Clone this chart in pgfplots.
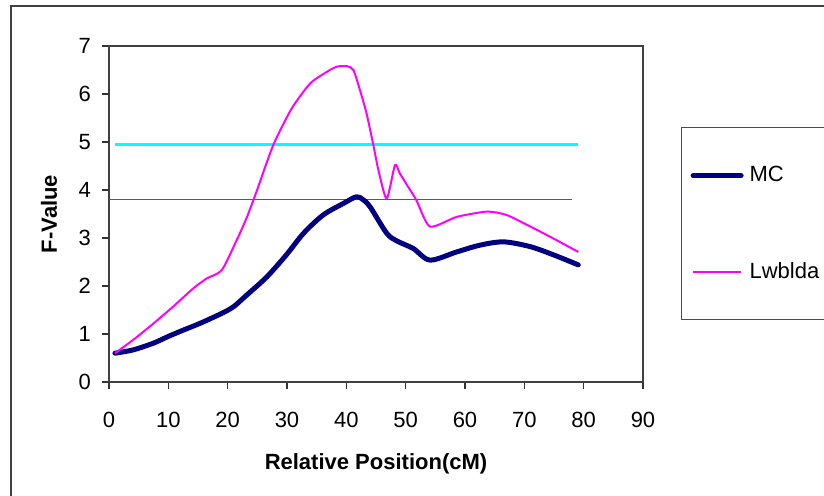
\documentclass[border=0pt]{standalone}
\usepackage{pgfplots}
\pgfplotsset{compat=1.18}
\usepackage{fontspec}
\setmainfont{Liberation Sans}
\definecolor{mcnavy}{RGB}{0,0,128}
\definecolor{lwmag}{RGB}{255,0,255}
\definecolor{thcyan}{RGB}{0,255,255}

\begin{document}
\begin{tikzpicture}[font=\fontsize{11}{13}\selectfont]
% page = 824x495 px at 0.5pt per px
\useasboundingbox (-54.5pt,-56.5pt) rectangle (357.5pt,191pt);
\draw[black!75, line width=0.9pt] (-49pt,-70pt) -- (-49pt,188pt) -- (370pt,188pt);
\begin{axis}[
    at={(0,0)}, anchor=south west,
    scale only axis,
    width=267pt, height=168pt,
    xmin=0, xmax=90, ymin=0, ymax=7,
    xtick={0,10,...,90}, ytick={0,1,...,7},
    tick pos=left, tick align=outside,
    major tick length=3.5pt,
    tick style={black!80, line width=0.6pt},
    axis line style={black!75, line width=0.7pt},
    /pgf/number format/assume math mode=true,
    ticklabel style={font=\fontsize{11}{13}\selectfont},
    xticklabel style={yshift=-8pt},
    yticklabel style={xshift=-2pt},
    xlabel={\textbf{Relative Position(cM)}},
    ylabel={\textbf{F-Value}},
    xlabel style={yshift=-6pt},
    ylabel style={yshift=4pt},
    legend style={at={(rel axis cs:1.0712,0.7589)}, anchor=north west,
        draw=black!70, line width=0.6pt, inner xsep=4.5pt, inner ysep=0pt,
        row sep=0pt,
        nodes={minimum height=48pt, text width=50pt, inner xsep=3pt, inner ysep=0pt,
               font=\fontsize{11}{13}\selectfont}},
    legend cell align=left,
    legend image code/.code={\draw[#1] (0pt,0pt) -- (24pt,0pt);},
]
% threshold lines
\addplot[thcyan, line width=1.2pt, forget plot] coordinates {(1,4.95) (79,4.95)};
\addplot[black!65, line width=0.8pt, forget plot] coordinates {(0,3.8) (78,3.8)};

\addplot[mcnavy, line width=2.5pt, line join=round, line cap=round, smooth, tension=0.5] coordinates {
(1,0.60) (4.1,0.67) (7.5,0.81) (10,0.95) (12.5,1.08) (15.3,1.22) (19,1.43)
(21,1.57) (23.2,1.81) (26.6,2.19) (29.9,2.65) (32.8,3.10) (36.1,3.48)
(39.5,3.72) (41.7,3.86) (42.8,3.80) (44,3.65) (46.8,3.10) (48.5,2.94)
(51.3,2.78) (54.1,2.54) (58.6,2.71) (62.5,2.85) (66.5,2.92) (71,2.82)
(74.9,2.65) (79.1,2.44)
};
\addlegendentry{MC}

\addplot[lwmag, line width=1pt, line join=round, smooth, tension=0.4] coordinates {
(1,0.60) (4.1,0.88) (7.5,1.22) (10.8,1.57) (14.2,1.95) (16.5,2.16) (19,2.33)
(21.5,2.95) (23.2,3.42) (24.9,3.98) (27.7,4.94) (30.8,5.70) (33.9,6.22)
(36.7,6.46) (38.4,6.57) (40.1,6.58) (41.2,6.50) (42.3,6.08) (43.4,5.60)
(44.5,4.97) (45.4,4.42) (46.8,3.82) (48.2,4.52) (49,4.35) (50.4,4.07)
(51.8,3.79) (54.1,3.24) (58.6,3.44) (63.7,3.55) (67,3.48) (71,3.24)
(74.9,2.99) (79.1,2.71)
};
\addlegendentry{Lwblda}
\end{axis}
\end{tikzpicture}
\end{document}
